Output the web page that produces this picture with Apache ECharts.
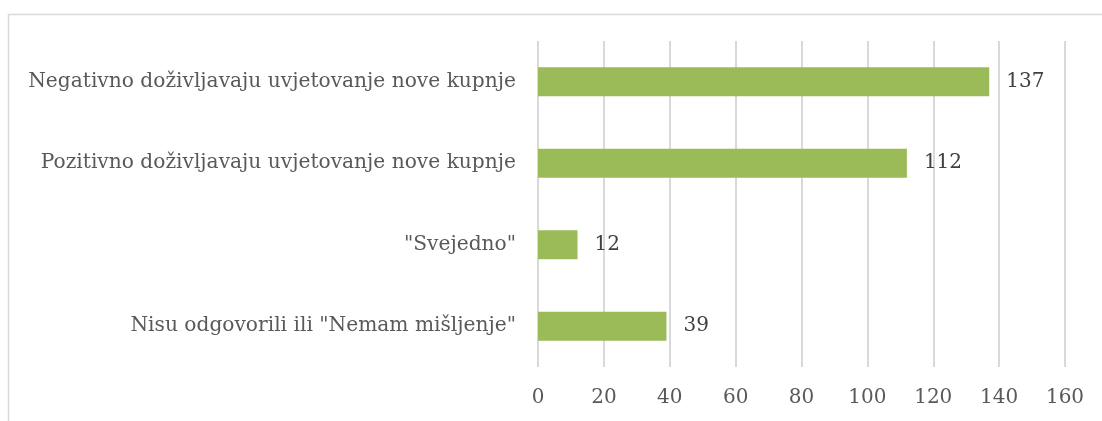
<!DOCTYPE html>
<html>
<head>
<meta charset="utf-8">
<script src="https://cdn.jsdelivr.net/npm/echarts@6/dist/echarts.min.js"></script>
<style>
html,body{margin:0;padding:0;background:#fff;}
#c{width:1102px;height:421px;}
</style>
</head>
<body>
<div id="c"></div>
<script>
const categories = [
  'Nisu odgovorili ili "Nemam mišljenje"',
  '"Svejedno"',
  'Pozitivno doživljavaju uvjetovanje nove kupnje',
  'Negativno doživljavaju uvjetovanje nove kupnje'
];
const values = [39, 12, 112, 137];
const xTicks = [0, 20, 40, 60, 80, 100, 120, 140, 160];

const FONT = 'DejaVu Serif';
const chart = echarts.init(document.getElementById('c'), null, {renderer: 'canvas'});
chart.setOption({
  animation: false,
  backgroundColor: '#ffffff',
  graphic: [{
    type: 'rect',
    shape: {x: 8.5, y: 14.5, width: 1200, height: 600},
    style: {fill: 'none', stroke: '#d9d9d9', lineWidth: 1.5},
    silent: true
  }],
  grid: {left: 538, right: 37, top: 41, bottom: 54, containLabel: false},
  xAxis: {
    type: 'value',
    min: xTicks[0],
    max: xTicks[xTicks.length - 1],
    interval: 20,
    axisLine: {show: false},
    axisTick: {show: false},
    splitLine: {show: true, lineStyle: {color: '#d9d9d9', width: 2}},
    axisLabel: {color: '#595959', fontFamily: FONT, fontSize: 20, margin: 21}
  },
  yAxis: {
    type: 'category',
    data: categories,
    axisLine: {show: false},
    axisTick: {show: false},
    axisLabel: {color: '#595959', fontFamily: FONT, fontSize: 20.2, margin: 22}
  },
  series: [{
    type: 'bar',
    data: values,
    barWidth: 29,
    itemStyle: {color: '#9bbb59'},
    label: {
      show: true,
      position: 'right',
      distance: 17,
      color: '#404040',
      fontFamily: FONT,
      fontSize: 20
    }
  }]
});
</script>
</body>
</html>
